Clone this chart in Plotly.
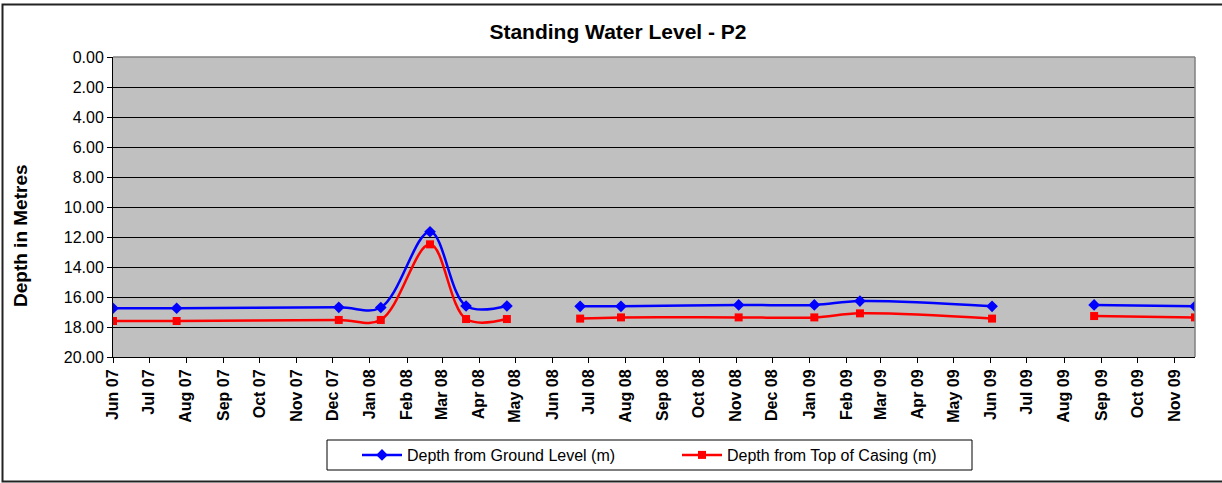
import plotly.graph_objects as go

# ---- data ----
dates = ["2007-06-01", "2007-07-24", "2007-12-06", "2008-01-10", "2008-02-20",
         "2008-03-21", "2008-04-24", "2008-05-25", "2008-06-24", "2008-07-28",
         "2008-11-03", "2009-01-05", "2009-02-12", "2009-06-02", "2009-07-15",
         "2009-08-26", "2009-11-18"]
ground_level = [16.75, 16.75, 16.69, 16.70, 11.65, 16.60, 16.60, None, 16.62, 16.62,
                16.53, 16.53, 16.27, 16.62, None, 16.53, 16.62]
top_of_casing = [17.60, 17.60, 17.53, 17.53, 12.49, 17.47, 17.47, None, 17.44, 17.36,
                 17.36, 17.36, 17.09, 17.44, None, 17.27, 17.36]
series_names = ["Depth from Ground Level (m)", "Depth from Top of Casing (m)"]
title_text = "Standing Water Level - P2"
y_title = "Depth in Metres"

FONT = "Arial, Liberation Sans, sans-serif"
W, H = 1222, 483
L, R, T, B = 113, 27, 57, 126
PW, PH = W - L - R, H - T - B


def px_x(x):
    return (x - L) / PW


def px_y(y):
    return (H - B - y) / PH


fig = go.Figure()
fig.add_trace(go.Scatter(
    x=dates, y=ground_level, name=series_names[0], mode="lines+markers",
    line=dict(color="#0000FF", width=2.5, shape="spline", smoothing=1.0),
    marker=dict(symbol="diamond", size=9, color="#0000FF"),
    connectgaps=False))
fig.add_trace(go.Scatter(
    x=dates, y=top_of_casing, name=series_names[1], mode="lines+markers",
    line=dict(color="#FF0000", width=2.5, shape="spline", smoothing=1.0),
    marker=dict(symbol="square", size=8, color="#FF0000"),
    connectgaps=False))

fig.update_layout(
    width=W, height=H,
    margin=dict(l=L, r=R, t=T, b=B, autoexpand=False),
    paper_bgcolor="white", plot_bgcolor="#C0C0C0",
    font=dict(family=FONT, color="black"),
    title=dict(text="<b>" + title_text + "</b>", x=618 / W, xref="container",
               xanchor="center", y=1 - 32 / H, yref="container", yanchor="middle",
               font=dict(size=21, family=FONT)),
    showlegend=True,
    legend=dict(orientation="h", x=px_x(357), xanchor="left",
                y=px_y(455), yanchor="middle", borderwidth=0,
                bgcolor="rgba(0,0,0,0)", font=dict(size=16, family=FONT),
                entrywidth=265, entrywidthmode="pixels", itemwidth=40),
    xaxis=dict(type="date", range=["2007-06-01", "2009-11-18"],
               tick0="2007-06-01", dtick="M1", tickformat="%b %y",
               tickangle=-90, ticks="outside", ticklen=5, tickcolor="black",
               tickfont=dict(size=16, family=FONT, weight="bold"),
               showgrid=False, showline=True, linecolor="black", linewidth=1,
               zeroline=False, automargin=False),
    yaxis=dict(range=[20, 0], tick0=0, dtick=2, tickformat=".2f",
               ticks="outside", ticklen=5, tickcolor="black",
               tickfont=dict(size=16, family=FONT),
               showgrid=True, gridcolor="black", gridwidth=1,
               showline=True, linecolor="black", linewidth=1, zeroline=False,
               automargin=False),
    annotations=[dict(text="<b>" + y_title + "</b>", xref="paper", yref="paper",
                      x=px_x(20), y=px_y(236), xanchor="center", yanchor="middle",
                      textangle=-90, showarrow=False,
                      font=dict(size=19, family=FONT))],
    shapes=[
        # plot-area top and right border (grey)
        dict(type="line", xref="paper", yref="paper", x0=0, x1=1, y0=1, y1=1,
             line=dict(color="#808080", width=1.5), layer="above"),
        dict(type="line", xref="paper", yref="paper", x0=1, x1=1, y0=0, y1=1,
             line=dict(color="#808080", width=1.5), layer="above"),
        # legend box
        dict(type="rect", xref="paper", yref="paper",
             x0=px_x(327), x1=px_x(972), y0=px_y(470), y1=px_y(440),
             line=dict(color="black", width=1), fillcolor="rgba(0,0,0,0)",
             layer="above"),
        # outer chart border
        dict(type="rect", xref="paper", yref="paper",
             x0=px_x(2.5), x1=px_x(1230), y0=px_y(481.5), y1=px_y(4.5),
             line=dict(color="#222222", width=2), layer="above"),
    ],
)

fig.write_html("out.html", config={"displayModeBar": False},
               post_script="document.body.style.margin='0';document.body.style.overflow='hidden';")
